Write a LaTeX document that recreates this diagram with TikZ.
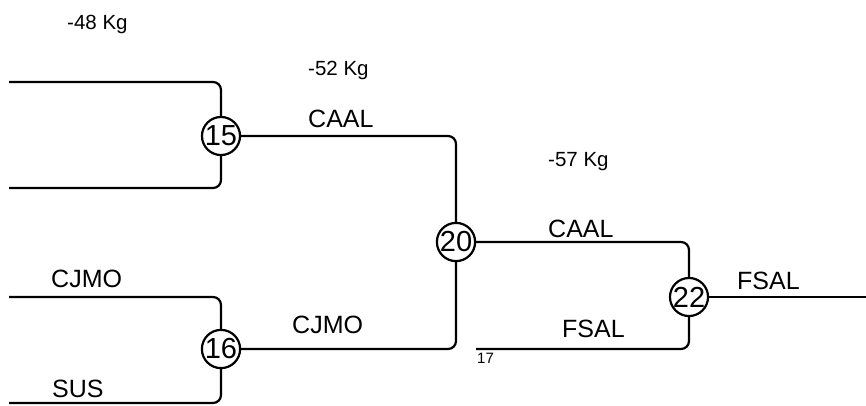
\documentclass[tikz,border=0pt]{standalone}
\usepackage{fontspec}
\setmainfont{Liberation Sans}
\begin{document}
\begin{tikzpicture}[x=1pt,y=-1pt,
  wire/.style={line width=2.2pt,rounded corners=8pt},
  seed/.style={circle,draw,line width=2.2pt,minimum size=36pt,inner sep=0pt,font=\fontsize{29}{30}\selectfont},
  lbl/.style={anchor=base west,inner sep=0pt,font=\fontsize{25}{28}\selectfont},
  kg/.style={anchor=base west,inner sep=0pt,font=\fontsize{20.5}{24}\selectfont},
  small/.style={anchor=base west,inner sep=0pt,font=\fontsize{15}{17}\selectfont}]
\useasboundingbox (0,0) rectangle (866,405);
% seeds
\node[seed] (s15) at (221,136) {15};
\node[seed] (s16) at (221,349) {16};
\node[seed] (s20) at (456,242) {20};
\node[seed] (s22) at (689,297) {22};
% free ends
\coordinate (a1) at (9,82);
\coordinate (a2) at (9,188);
\coordinate (b1) at (9,297);
\coordinate (b2) at (9,403);
\coordinate (c2) at (476,349);
\coordinate (out) at (866,297);
% connectors
\draw[wire] (a1) -| (s15.north);
\draw[wire] (a2) -| (s15.south);
\draw[wire] (b1) -| (s16.north);
\draw[wire] (b2) -| (s16.south);
\draw[wire] (s15.east) -| (s20.north);
\draw[wire] (s16.east) -| (s20.south);
\draw[wire] (s20.east) -| (s22.north);
\draw[wire] (c2) -| (s22.south);
\draw[wire] (s22.east) -- (out);
% labels
\node[kg] (k48) at (67,29) {-48 Kg};
\node[kg] (k52) at (308,75) {-52 Kg};
\node[kg] (k57) at (548,166) {-57 Kg};
\node[lbl] (l1) at (308,127) {CAAL};
\node[lbl] (l2) at (548,237) {CAAL};
\node[lbl] (l3) at (51,287) {CJMO};
\node[lbl] (l4) at (52,397) {SUS};
\node[lbl] (l5) at (292,333) {CJMO};
\node[lbl] (l6) at (562,337) {FSAL};
\node[lbl] (l7) at (737,289) {FSAL};
\node[small] (n17) at (477,363) {17};
\end{tikzpicture}
\end{document}
